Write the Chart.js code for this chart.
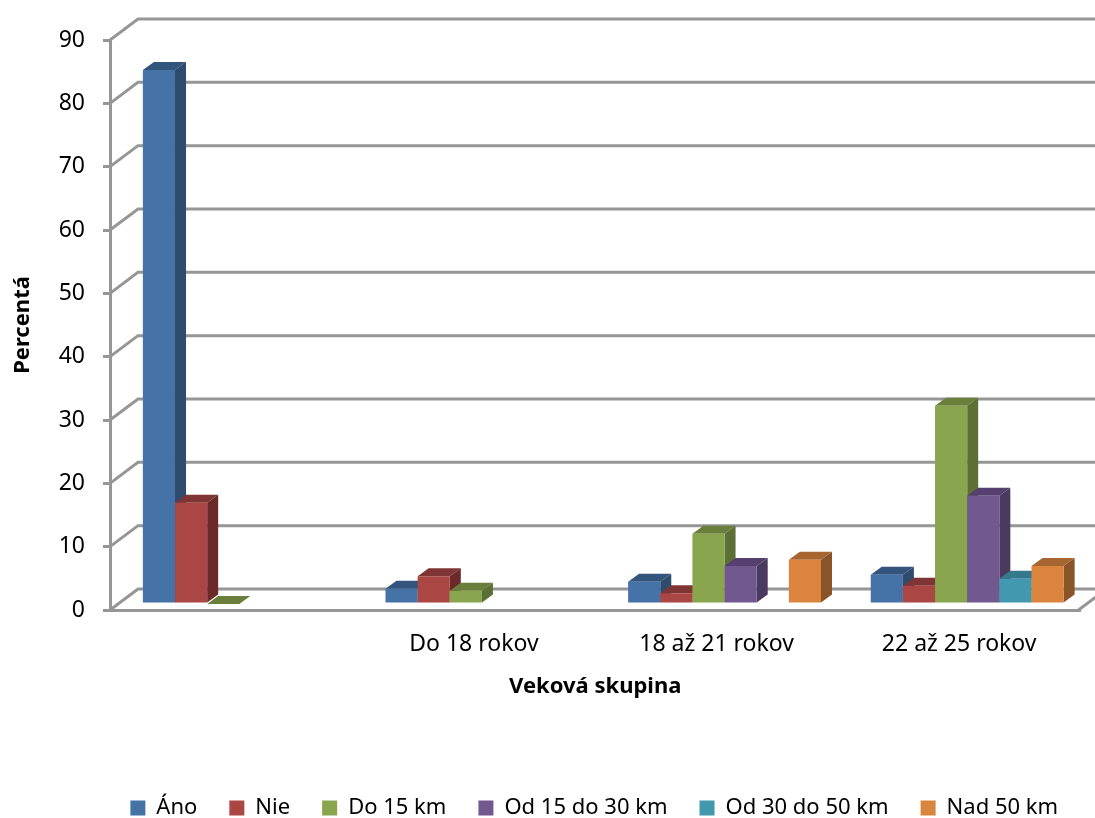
<!DOCTYPE html>
<html>
<head>
<meta charset="utf-8">
<script src="https://cdn.jsdelivr.net/npm/chart.js@4/dist/chart.umd.js"></script>
<style>
  html, body { margin: 0; padding: 0; background: #fff; }
  #wrap { width: 1095px; height: 818px; }
</style>
</head>
<body>
<div id="wrap"><canvas id="chart"></canvas></div>
<script>
const categories = ["", "Do 18 rokov", "18 až 21 rokov", "22 až 25 rokov"];
const seriesNames = ["Áno", "Nie", "Do 15 km", "Od 15 do 30 km", "Od 30 do 50 km", "Nad 50 km"];
const ano = [84.3, 2.4, 3.5, 4.6];
const nie = [16, 4.4, 1.7, 2.9];
const do15 = [0, 2.1, 11.1, 31.3];
const od15 = [null, null, 6, 17.1];
const od30 = [null, null, null, 4];
const nad50 = [null, null, 7, 6];
const seriesValues = [ano, nie, do15, od15, od30, nad50];

const frontColors = ["#4573A7", "#AA4643", "#89A54E", "#71588F", "#4198AF", "#DB843D"];
const topColors = ["#33557D", "#7F3533", "#6A7F3B", "#573F6F", "#347A8C", "#A76531"];
const sideColors = ["#2F4B6E", "#6B2A29", "#5C6F34", "#4B3A60", "#2C6575", "#8B5428"];

const gridColor = "#969696";
const textFont = "'Noto Sans'";

// walls and floor sit behind the front plane
const wallX = 28;
const wallY = -21;
// bars stand a bit inside the floor
const barShiftX = 8;
const barShiftY = -6;
const depthX = 11;
const depthY = -8;

function poly(ctx, points, color) {
  ctx.fillStyle = color;
  ctx.beginPath();
  points.forEach((p, i) => (i ? ctx.lineTo(p[0], p[1]) : ctx.moveTo(p[0], p[1])));
  ctx.closePath();
  ctx.fill();
}

const walls3d = {
  id: "walls3d",
  afterLayout(chart) {
    // legend sits right of centre and close to the bottom edge
    const legend = chart.legend;
    legend.left += 54;
    legend.right += 54;
    legend.top += 11;
    legend.bottom += 11;
  },
  beforeDatasetsDraw(chart) {
    const ctx = chart.ctx;
    const yScale = chart.scales.y;
    const area = chart.chartArea;

    ctx.save();
    ctx.strokeStyle = gridColor;
    ctx.lineWidth = 3;
    yScale.ticks.forEach((tick) => {
      const y = yScale.getPixelForValue(tick.value);
      ctx.beginPath();
      ctx.moveTo(area.left, y);
      ctx.lineTo(area.left + wallX, y + wallY);
      ctx.lineTo(chart.width, y + wallY);
      ctx.stroke();
    });
    ctx.beginPath();
    ctx.moveTo(area.right - 2, area.bottom);
    ctx.lineTo(area.right - 2 + wallX, area.bottom + wallY);
    ctx.stroke();
    ctx.restore();

    // first series first, so that each bar covers the side of the one before it
    seriesValues.forEach((values, d) => {
      const meta = chart.getDatasetMeta(d);
      ctx.save();
      ctx.translate(barShiftX, barShiftY);
      meta.data.forEach((bar, i) => {
        if (values[i] === null) {
          return;
        }
        const left = bar.x - bar.width / 2;
        const right = bar.x + bar.width / 2;
        poly(ctx, [
          [left, bar.y],
          [left + depthX, bar.y + depthY],
          [right + depthX, bar.y + depthY],
          [right, bar.y]
        ], topColors[d]);
        poly(ctx, [
          [right, bar.y],
          [right + depthX, bar.y + depthY],
          [right + depthX, bar.base + depthY],
          [right, bar.base]
        ], sideColors[d]);
        bar.draw(ctx);
      });
      ctx.restore();
    });
    return false;
  }
};

new Chart(document.getElementById("chart"), {
  type: "bar",
  data: {
    labels: categories,
    datasets: seriesNames.map((name, d) => ({
      label: name,
      data: seriesValues[d],
      backgroundColor: frontColors[d],
      borderWidth: 0
    }))
  },
  plugins: [walls3d],
  options: {
    responsive: true,
    maintainAspectRatio: false,
    animation: false,
    categoryPercentage: 0.795,
    barPercentage: 1,
    layout: { padding: { top: 40, right: 14.5, bottom: 0, left: 0 } },
    plugins: {
      tooltip: { enabled: false },
      legend: {
        position: "bottom",
        labels: {
          boxWidth: 15,
          boxHeight: 15,
          padding: 32,
          color: "#000",
          font: { family: textFont, size: 22 }
        }
      }
    },
    scales: {
      x: {
        grid: { display: false },
        border: { display: true, color: gridColor, width: 3 },
        ticks: {
          autoSkip: false,
          maxRotation: 0,
          color: "#000",
          padding: 13,
          font: { family: textFont, size: 23 }
        },
        title: {
          display: true,
          text: "Veková skupina",
          color: "#000",
          font: { family: textFont, size: 22, weight: "bold" },
          padding: { top: 2, bottom: 54 }
        }
      },
      y: {
        min: 0,
        max: 90,
        afterFit(scale) {
          scale.width = 110;
        },
        grid: { drawOnChartArea: false, color: gridColor, lineWidth: 3, tickLength: 7 },
        border: { display: true, color: gridColor, width: 3 },
        ticks: {
          stepSize: 10,
          color: "#000",
          padding: 18,
          font: { family: textFont, size: 23 }
        },
        title: {
          display: true,
          text: "Percentá",
          color: "#000",
          font: { family: textFont, size: 22, weight: "bold" },
          padding: { top: 10, bottom: 0 }
        }
      }
    }
  }
});
</script>
</body>
</html>
